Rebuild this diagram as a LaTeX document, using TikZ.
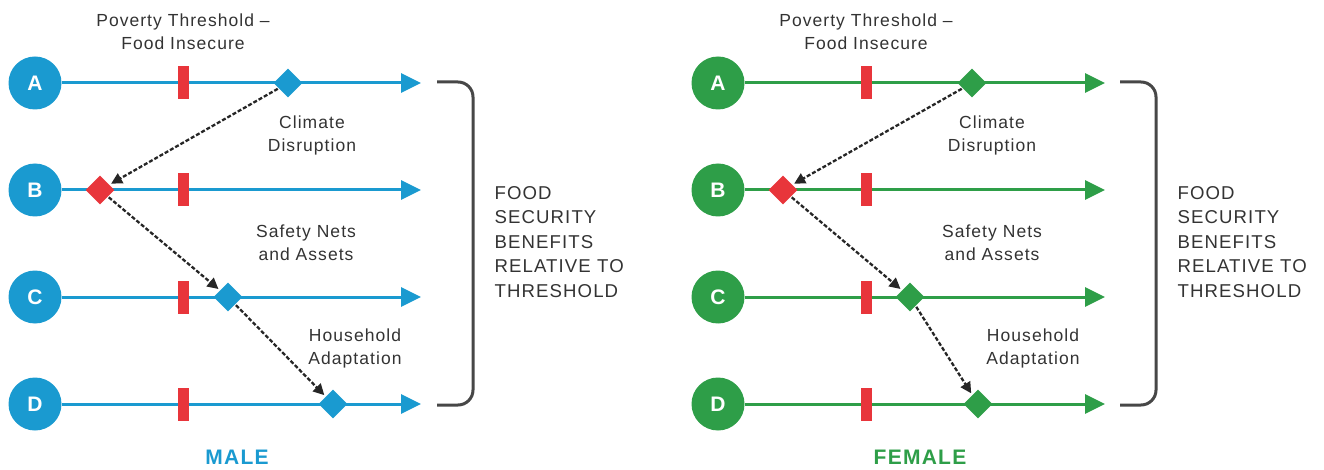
\documentclass[tikz,border=0pt]{standalone}
\usepackage{fontspec}
\setmainfont{Liberation Sans}[LetterSpace=6]
\usetikzlibrary{shapes.geometric,arrows.meta}
\definecolor{mblue}{HTML}{1A9AD0}
\definecolor{fgreen}{HTML}{2E9E48}
\definecolor{tred}{HTML}{E8353B}
\definecolor{txt}{HTML}{333333}
\begin{document}
\begin{tikzpicture}[x=1pt,y=-1pt,
 letter/.style={circle,fill=#1,minimum size=53pt,inner sep=0pt,text=white,font=\fontsize{21}{21}\selectfont\bfseries},
 track/.style={line width=3pt,draw=#1,-{Triangle[length=20pt,width=19pt]}},
 bar/.style={fill=tred,minimum width=11pt,minimum height=33pt,inner sep=0pt},
 dia/.style={diamond,fill=#1,minimum width=29pt,minimum height=29pt,inner sep=0pt},
 jump/.style={line width=2.3pt,draw=black!85,dash pattern=on 4pt off 2pt,-{Triangle[length=11pt,width=11pt]},shorten <=1pt,shorten >=2pt},
 lbl/.style={font=\fontsize{17.5}{23}\selectfont,text=txt,align=center},
 bracket/.style={line width=3pt,draw=txt!90,rounded corners=15pt},
 side/.style={font=\fontsize{18.6}{24.5}\selectfont,text=txt,align=left,anchor=west},
 title/.style={font=\fontsize{21}{21}\selectfont\bfseries,text=#1}
]
\useasboundingbox (0,0) rectangle (1324,470);
% ---------------- MALE ----------------
\foreach \r/\y in {A/83,B/190,C/297,D/404}{
  \node[letter=mblue] (m\r) at (35,\y) {\r};
  \coordinate (m\r e) at (421,\y);
  \draw[track=mblue] (m\r) -- (m\r e);
  \node[bar] (mb\r) at (183,\y) {};
}
\node[dia=mblue] (mdA) at (288,83) {};
\node[dia=tred] (mdB) at (100,190) {};
\node[dia=mblue] (mdC) at (228,297) {};
\node[dia=mblue] (mdD) at (333,404) {};
\draw[jump] (mdA) -- (mdB);
\draw[jump] (mdB) -- (mdC);
\draw[jump] (mdC) -- (mdD);
\node[lbl] (mlp) at (183,32) {Poverty Threshold –\\Food Insecure};
\node[lbl] (mlc) at (312,135) {Climate\\Disruption};
\node[lbl] (mls) at (306,243) {Safety Nets\\and Assets};
\node[lbl] (mlh) at (355,348) {Household\\Adaptation};
\coordinate (mk1) at (437,82);
\coordinate (mk2) at (473,82);
\coordinate (mk3) at (473,405);
\coordinate (mk4) at (437,405);
\draw[bracket] (mk1) -- (mk2) -- (mk3) -- (mk4);
\node[side] (mside) at (491,242) {FOOD\\SECURITY\\BENEFITS\\RELATIVE TO\\THRESHOLD};
\node[title=mblue] (mt) at (237,457) {MALE};
% ---------------- FEMALE ----------------
\foreach \r/\y in {A/83,B/190,C/297,D/404}{
  \node[letter=fgreen] (f\r) at (718,\y) {\r};
  \coordinate (f\r e) at (1105,\y);
  \draw[track=fgreen] (f\r) -- (f\r e);
  \node[bar] (fb\r) at (866,\y) {};
}
\node[dia=fgreen] (fdA) at (972,83) {};
\node[dia=tred] (fdB) at (783,190) {};
\node[dia=fgreen] (fdC) at (910,297) {};
\node[dia=fgreen] (fdD) at (978,404) {};
\draw[jump] (fdA) -- (fdB);
\draw[jump] (fdB) -- (fdC);
\draw[jump] (fdC) -- (fdD);
\node[lbl] (flp) at (866,32) {Poverty Threshold –\\Food Insecure};
\node[lbl] (flc) at (992,135) {Climate\\Disruption};
\node[lbl] (fls) at (992,243) {Safety Nets\\and Assets};
\node[lbl] (flh) at (1033,348) {Household\\Adaptation};
\coordinate (fk1) at (1120,82);
\coordinate (fk2) at (1156,82);
\coordinate (fk3) at (1156,405);
\coordinate (fk4) at (1120,405);
\draw[bracket] (fk1) -- (fk2) -- (fk3) -- (fk4);
\node[side] (fside) at (1174,242) {FOOD\\SECURITY\\BENEFITS\\RELATIVE TO\\THRESHOLD};
\node[title=fgreen] (ft) at (920,457) {FEMALE};
\end{tikzpicture}
\end{document}
